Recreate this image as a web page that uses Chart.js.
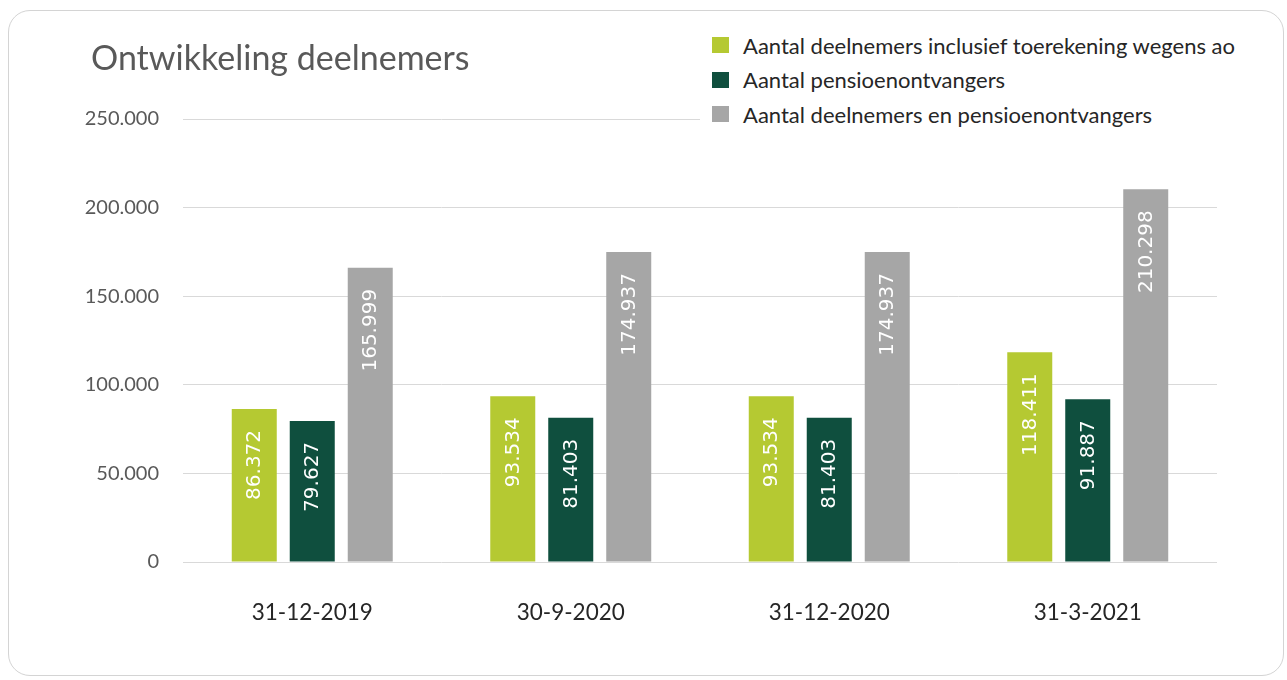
<!DOCTYPE html>
<html>
<head>
<meta charset="utf-8">
<script src="https://cdn.jsdelivr.net/npm/chart.js@4.4.1/dist/chart.umd.min.js"></script>
<style>
  body { margin: 0; background: #fff; font-family: Lato, sans-serif; }
  #card {
    position: absolute; left: 8px; top: 10px; width: 1274px; height: 664px;
    border: 1.5px solid #d4d4d4; border-radius: 22px;
  }
  #graph { position: absolute; left: 0; top: 0; }
  #title {
    position: absolute; left: 91px; top: 36px;
    font-size: 34px; color: #595959; white-space: nowrap;
  }
  #legend {
    position: absolute; left: 700px; top: 28px; width: 570px;
    background: #fff; padding: 0 0 4px 12px;
  }
  .item { height: 34.5px; display: flex; align-items: center; font-size: 22px; color: #262626; white-space: nowrap; }
  .box { width: 17px; height: 16px; margin-right: 14px; flex: none; }
</style>
</head>
<body>
<div id="card"></div>
<canvas id="graph" width="1287" height="680"></canvas>
<div id="title">Ontwikkeling deelnemers</div>
<div id="legend"></div>

<script>
// -------------------------
// DATA
// -------------------------
const categories = ["31-12-2019", "30-9-2020", "31-12-2020", "31-3-2021"];
const deelnemersAo = [86372, 93534, 93534, 118411];
const pensioenontvangers = [79627, 81403, 81403, 91887];
const deelnemersEnPensioen = [165999, 174937, 174937, 210298];

const seriesNames = [
  "Aantal deelnemers inclusief toerekening wegens ao",
  "Aantal pensioenontvangers",
  "Aantal deelnemers en pensioenontvangers"
];
const seriesColors = ["#b5c932", "#0f4f3e", "#a6a6a6"];
const yTicks = [0, 50000, 100000, 150000, 200000, 250000];

// -------------------------
// HELPERS
// -------------------------
function fmt(v) {
  return String(v).replace(/\B(?=(\d{3})+(?!\d))/g, ".");
}

// value labels rotated inside the top of each bar
const barLabels = {
  id: "barLabels",
  afterDatasetsDraw(chart) {
    const ctx = chart.ctx;
    chart.data.datasets.forEach((ds, i) => {
      const meta = chart.getDatasetMeta(i);
      meta.data.forEach((bar, j) => {
        ctx.save();
        ctx.translate(bar.x, bar.y + 21);
        ctx.rotate(-Math.PI / 2);
        ctx.fillStyle = "#ffffff";
        ctx.font = "20px 'DejaVu Sans'";
        ctx.textAlign = "right";
        ctx.textBaseline = "middle";
        ctx.fillText(fmt(ds.data[j]), 0, 1);
        ctx.restore();
      });
    });
  }
};

// -------------------------
// CHART
// -------------------------
const values = [deelnemersAo, pensioenontvangers, deelnemersEnPensioen];

const chart = new Chart(document.getElementById("graph"), {
  type: "bar",
  data: {
    labels: categories,
    datasets: values.map((d, i) => ({
      label: seriesNames[i],
      data: d,
      backgroundColor: seriesColors[i],
      categoryPercentage: 0.673,
      barPercentage: 0.776
    }))
  },
  options: {
    responsive: false,
    animation: false,
    layout: { padding: { left: 0, top: 119, right: 70, bottom: 0 } },
    plugins: {
      legend: { display: false },
      tooltip: { enabled: false }
    },
    scales: {
      x: {
        grid: { display: false },
        border: { display: false },
        ticks: { color: "#262626", font: { family: "Lato", size: 22.5 }, padding: 29 },
        afterFit(scale) { scale.height = 118; }
      },
      y: {
        min: 0,
        max: 250000,
        afterBuildTicks(scale) { scale.ticks = yTicks.map(v => ({ value: v })); },
        grid: { color: "#d9d9d9", lineWidth: 1, drawTicks: false },
        border: { display: false },
        ticks: {
          color: "#595959",
          font: { family: "Lato", size: 20 },
          padding: 24,
          callback: v => fmt(v)
        },
        afterFit(scale) { scale.width = 183; }
      }
    }
  },
  plugins: [barLabels]
});

// -------------------------
// LEGEND
// -------------------------
document.getElementById("legend").innerHTML = seriesNames.map((n, i) =>
  `<div class="item"><span class="box" style="background:${seriesColors[i]}"></span>${n}</div>`
).join("");
</script>
</body>
</html>
